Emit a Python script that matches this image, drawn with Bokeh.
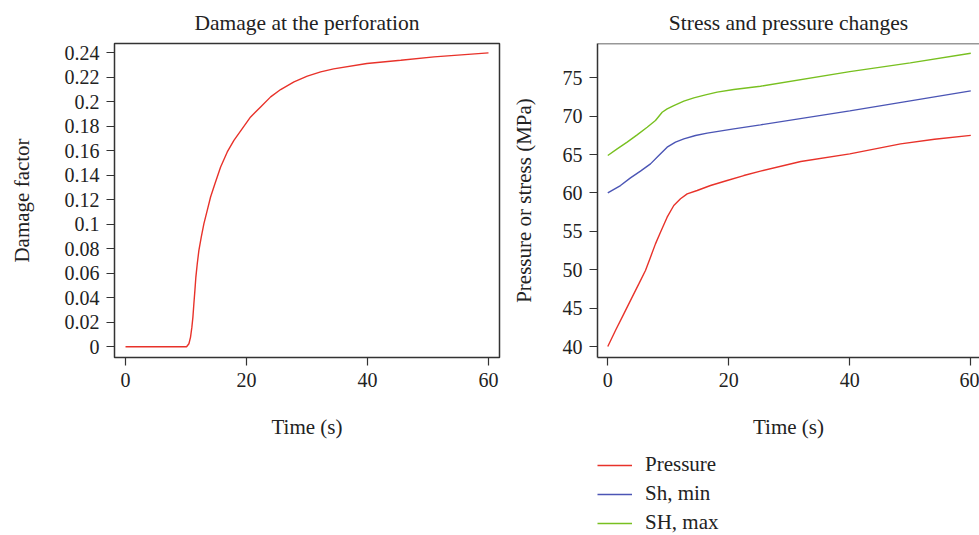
from bokeh.plotting import figure
from bokeh.layouts import row, column
from bokeh.models import FixedTicker, Legend, LegendItem, Range1d, Span
from bokeh.embed import file_html
from bokeh.resources import INLINE

# ---- data: damage at the perforation ----
damage_t = [0, 5, 10.09, 10.48, 10.75, 10.97, 11.14, 11.30, 11.47, 11.63, 11.86, 12.13,
            12.52, 12.96, 13.51, 14.06, 14.78, 15.72, 16.82, 17.92, 19.30, 20.68, 22.33,
            23.99, 25.64, 27.85, 30.05, 32.26, 34.4, 39.9, 45.5, 51.0, 55.5, 60.0]
damage_d = [0, 0, 0, 0.0024, 0.0079, 0.0160, 0.0242, 0.0351, 0.0460, 0.0569, 0.0678, 0.0787,
            0.0896, 0.1005, 0.1114, 0.1223, 0.1332, 0.1468, 0.1591, 0.1686, 0.1782, 0.1877,
            0.1959, 0.2041, 0.2101, 0.2163, 0.2210, 0.2245, 0.2270, 0.2314, 0.2340, 0.2368,
            0.2384, 0.2400]
damage_yticks = [0, 0.02, 0.04, 0.06, 0.08, 0.1, 0.12, 0.14, 0.16, 0.18, 0.2, 0.22, 0.24]
damage_ylabels = ["0", "0.02", "0.04", "0.06", "0.08", "0.1", "0.12", "0.14", "0.16",
                  "0.18", "0.2", "0.22", "0.24"]
time_ticks = [0, 20, 40, 60]

# ---- data: stress and pressure ----
pres_t = [0, 1.27, 2.65, 4.03, 5.13, 6.23, 7.06, 7.88, 8.71, 9.81, 10.91, 12.02, 13.12,
          14.77, 16.98, 19.73, 22.48, 25.24, 31.9, 40.0, 48.4, 54.0, 60.0]
pres_v = [40.0, 42.08, 44.26, 46.43, 48.16, 49.90, 51.64, 53.37, 54.89, 56.85, 58.37, 59.24,
          59.89, 60.32, 60.97, 61.62, 62.27, 62.84, 64.1, 65.1, 66.4, 67.0, 67.5]
shmin_t = [0, 2.10, 3.75, 5.40, 7.06, 8.43, 9.81, 11.19, 12.57, 14.50, 16.43, 20.83, 25.24,
           40.0, 50.0, 60.0]
shmin_v = [60.0, 60.97, 61.97, 62.84, 63.79, 64.88, 65.96, 66.62, 67.05, 67.49, 67.79, 68.35,
           68.87, 70.7, 72.0, 73.3]
shmax_t = [0, 1.55, 3.20, 4.85, 6.51, 7.88, 8.99, 9.81, 10.91, 12.57, 14.22, 16.15, 18.08,
           20.83, 25.24, 40.0, 50.0, 60.0]
shmax_v = [64.88, 65.75, 66.62, 67.57, 68.57, 69.44, 70.52, 70.96, 71.39, 71.96, 72.39, 72.78,
           73.13, 73.48, 73.91, 75.8, 76.95, 78.2]
stress_yticks = [40, 45, 50, 55, 60, 65, 70, 75]
series_names = ["Pressure", "Sh, min", "SH, max"]

FONT = "Liberation Serif"
TXT = "#222222"
FRAME = "#333333"
colors = ["#e8322a", "#4b55b5", "#78c020"]
NAN = float("nan")


def style(p, ylabel, label_standoff):
    p.title.text_font = FONT
    p.title.text_font_size = "21.5px"
    p.title.text_font_style = "normal"
    p.title.text_color = TXT
    p.title.align = "center"
    p.title.standoff = 17
    p.outline_line_color = FRAME
    p.outline_line_width = 1.5
    p.grid.visible = False
    p.background_fill_color = "white"
    p.border_fill_color = "white"
    for ax in (p.xaxis[0], p.yaxis[0]):
        ax.axis_line_color = None
        ax.major_tick_out = 8
        ax.major_tick_in = 0
        ax.minor_tick_line_color = None
        ax.major_tick_line_color = FRAME
        ax.major_tick_line_width = 1.2
        ax.major_label_text_font = FONT
        ax.major_label_text_font_size = "20px"
        ax.major_label_text_color = TXT
        ax.major_label_standoff = 7
        ax.axis_label_text_font = FONT
        ax.axis_label_text_font_size = "21px"
        ax.axis_label_text_font_style = "normal"
        ax.axis_label_text_color = TXT
    p.xaxis[0].axis_label = "Time (s)"
    p.xaxis[0].axis_label_standoff = 25
    p.xaxis[0].ticker = FixedTicker(ticks=time_ticks)
    p.yaxis[0].axis_label = ylabel
    p.yaxis[0].axis_label_standoff = label_standoff


# ---- left panel ----
p1 = figure(width=508, height=535, output_backend="svg", toolbar_location=None,
            title="Damage at the perforation",
            x_range=Range1d(-1.82, 61.82), y_range=Range1d(-0.0088, 0.2477),
            min_border_left=114, min_border_right=9, min_border_top=43,
            min_border_bottom=178)
style(p1, "Damage factor", 28)
p1.yaxis[0].ticker = FixedTicker(ticks=damage_yticks)
p1.yaxis[0].major_label_overrides = {v: s for v, s in zip(damage_yticks, damage_ylabels)}
p1.line(damage_t, damage_d, line_color=colors[0], line_width=1.4)

# ---- right panel ----
p2 = figure(width=471, height=447, output_backend="svg", toolbar_location=None,
            title="Stress and pressure changes",
            x_range=Range1d(-1.70, 61.44), y_range=Range1d(38.57, 79.47),
            min_border_left=89, min_border_right=0, min_border_top=43,
            min_border_bottom=90)
style(p2, "Pressure or stress (MPa)", 24)
p2.yaxis[0].ticker = FixedTicker(ticks=stress_yticks)
p2.outline_line_color = None
p2.xaxis[0].axis_line_color = FRAME
p2.xaxis[0].axis_line_width = 1.5
p2.yaxis[0].axis_line_color = FRAME
p2.yaxis[0].axis_line_width = 1.5
p2.add_layout(Span(location=79.47, dimension="width", line_color=FRAME, line_width=1.5))

p2.line(pres_t, pres_v, line_color=colors[0], line_width=1.4)
p2.line(shmin_t, shmin_v, line_color=colors[1], line_width=1.4)
p2.line(shmax_t, shmax_v, line_color=colors[2], line_width=1.4)

# ---- legend strip under the right panel (frame aligned with p2's frame) ----
p3 = figure(width=471, height=88, output_backend="svg", toolbar_location=None,
            x_range=Range1d(0, 1), y_range=Range1d(0, 1),
            x_axis_location=None, y_axis_location=None,
            min_border_left=89, min_border_right=0, min_border_top=0, min_border_bottom=0)
p3.outline_line_color = None
p3.grid.visible = False
p3.background_fill_color = "white"
p3.border_fill_color = "white"
# legend keys only: a single undefined point so nothing is drawn in the strip
leg_r = [p3.line([NAN], [NAN], line_color=c, line_width=1.4) for c in colors]
legend = Legend(items=[LegendItem(label=n, renderers=[r]) for n, r in zip(series_names, leg_r)],
                location=(0, 0), orientation="vertical",
                padding=0, margin=0, spacing=4,
                glyph_width=35, glyph_height=24, label_height=24,
                label_standoff=13, label_text_font=FONT,
                label_text_font_size="21px", label_text_color=TXT,
                border_line_color=None, background_fill_alpha=0)
p3.add_layout(legend, "center")

layout = row(p1, column(p2, p3, spacing=0), spacing=0)
open("out.html", "w").write(file_html(layout, INLINE))
